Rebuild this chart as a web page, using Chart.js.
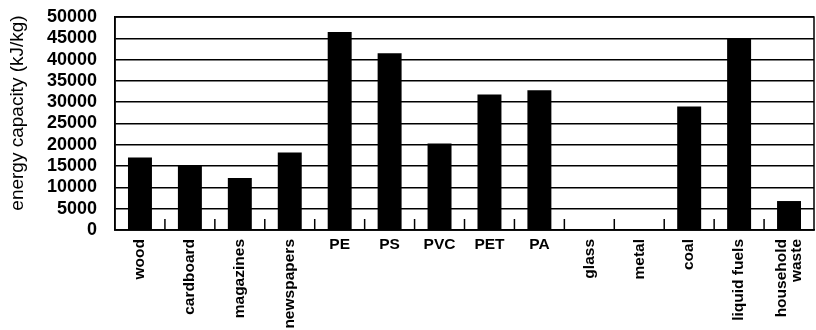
<!DOCTYPE html>
<html>
<head>
<meta charset="utf-8">
<script src="https://cdn.jsdelivr.net/npm/chart.js@4"></script>
<style>
html,body{margin:0;padding:0;background:#fff;}
#wrap{width:816px;height:330px;position:relative;}
</style>
</head>
<body>
<div id="wrap"><canvas id="c" width="816" height="330"></canvas></div>
<script>
const categories = ['wood','cardboard','magazines','newspapers','PE','PS','PVC','PET','PA','glass','metal','coal','liquid fuels',['household','waste']];
const energyValues = [17000,15000,12200,18200,46500,41500,20300,31800,32800,0,0,29000,45000,6800];
const yTicks = [0,5000,10000,15000,20000,25000,30000,35000,40000,45000,50000];
const yTitle = 'energy capacity (kJ/kg)';

const FONT = '"Liberation Sans", Arial, Helvetica, sans-serif';

const customAxis = {
  id: 'customAxis',
  afterDraw(chart) {
    const ctx = chart.ctx;
    const xs = chart.scales.x;
    const a = chart.chartArea;
    ctx.save();
    ctx.strokeStyle = '#000';
    ctx.lineWidth = 1.5;
    ctx.strokeRect(a.left, a.top, a.right - a.left, a.bottom - a.top);
    // inner tick marks at category boundaries
    for (let i = 1; i < categories.length; i++) {
      const x = (xs.getPixelForValue(i - 1) + xs.getPixelForValue(i)) / 2;
      ctx.beginPath();
      ctx.moveTo(x, a.bottom);
      ctx.lineTo(x, a.bottom - 11);
      ctx.stroke();
    }
    // y axis title
    ctx.fillStyle = '#000';
    ctx.save();
    ctx.font = '19px ' + FONT;
    ctx.translate(18, 113);
    ctx.rotate(-Math.PI / 2);
    ctx.textAlign = 'center';
    ctx.textBaseline = 'middle';
    ctx.fillText(yTitle, 0, 0);
    ctx.restore();
    // category labels
    ctx.font = 'bold 15.5px ' + FONT;
    const top = a.bottom + 9;
    categories.forEach((lab, i) => {
      const x = xs.getPixelForValue(i);
      const lines = Array.isArray(lab) ? lab : [lab];
      const horizontal = lines.length === 1 && lines[0].length <= 3;
      if (horizontal) {
        ctx.textAlign = 'center';
        ctx.textBaseline = 'top';
        ctx.fillText(lines[0], x, top - 2);
      } else {
        ctx.save();
        ctx.translate(x, top);
        ctx.rotate(-Math.PI / 2);
        ctx.textAlign = 'right';
        ctx.textBaseline = 'middle';
        const lh = 15;
        const off = -(lines.length - 1) * lh / 2;
        lines.forEach((l, k) => ctx.fillText(l, 0, off + k * lh));
        ctx.restore();
      }
    });
    ctx.restore();
  }
};

new Chart(document.getElementById('c'), {
  type: 'bar',
  data: {
    labels: categories,
    datasets: [{
      data: energyValues,
      backgroundColor: '#000',
      borderWidth: 0,
      barPercentage: 0.48,
      categoryPercentage: 1.0
    }]
  },
  options: {
    responsive: false,
    animation: false,
    devicePixelRatio: 1,
    layout: { padding: { top: 17, right: 2, left: 0, bottom: 0 } },
    plugins: { legend: { display: false }, tooltip: { enabled: false } },
    scales: {
      x: {
        grid: { display: false },
        border: { display: true, color: '#000', width: 1.5 },
        ticks: { display: false },
        afterFit(s) { s.height = 100; }
      },
      y: {
        min: 0, max: 50000,
        afterBuildTicks(s) { s.ticks = yTicks.map(v => ({ value: v })); },
        grid: { color: '#000', lineWidth: 1.5, drawTicks: false },
        border: { display: true, color: '#000', width: 1.5 },
        ticks: {
          autoSkip: false,
          padding: 18,
          color: '#000',
          font: { family: FONT, size: 18, weight: 'bold' },
          callback: v => String(v)
        },
        afterFit(s) { s.width = 115; s.paddingTop = 0; s.paddingBottom = 0; }
      }
    }
  },
  plugins: [customAxis]
});
</script>
</body>
</html>
